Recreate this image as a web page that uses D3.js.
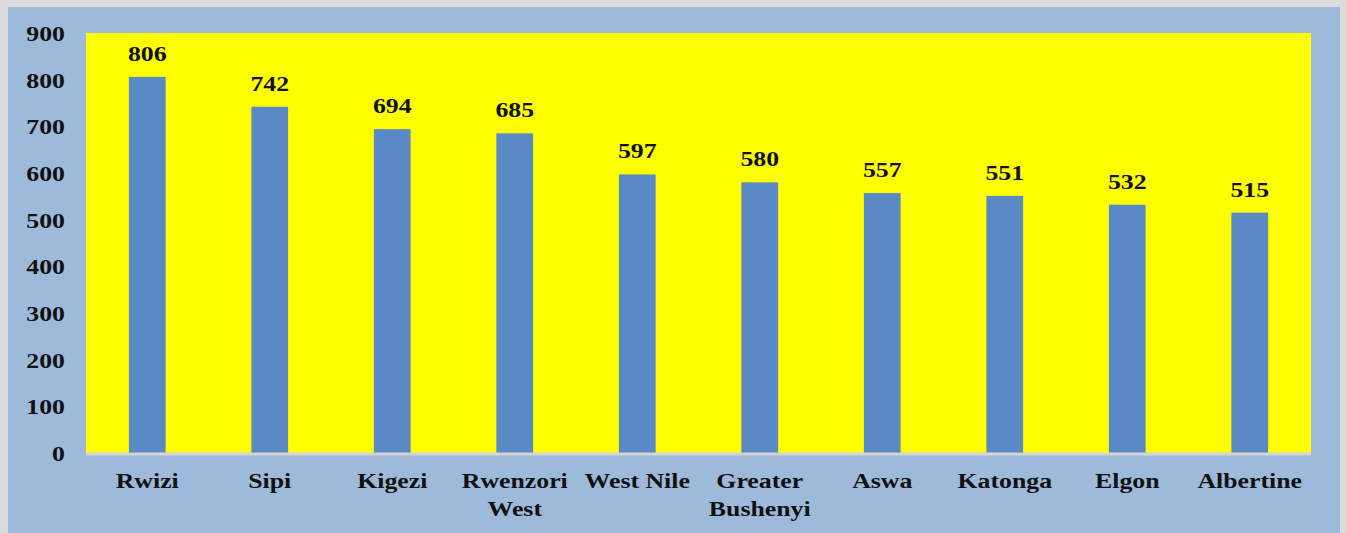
<!DOCTYPE html>
<html>
<head>
<meta charset="utf-8">
<script src="https://cdn.jsdelivr.net/npm/d3@7"></script>
<style>
  html, body { margin: 0; padding: 0; background: #ffffff; }
  svg { display: block; }
  text { font-family: "Liberation Serif", "Times New Roman", serif; font-weight: bold; fill: #111; }
</style>
</head>
<body>
<svg id="chart" width="1346" height="533"></svg>
<script>
// Regions and their values
const categories = ["Rwizi", "Sipi", "Kigezi", "Rwenzori West", "West Nile",
  "Greater Bushenyi", "Aswa", "Katonga", "Elgon", "Albertine"];
const values = [806, 742, 694, 685, 597, 580, 557, 551, 532, 515];
const yTicks = [0, 100, 200, 300, 400, 500, 600, 700, 800, 900];

const W = 1346, H = 533;
const plot = { left: 86, top: 33, right: 1311, bottom: 453 };
const FONT = 21.5;          // label font size
const STRETCH = "scale(1.2,1)"; // wide bold serif lettering

const svg = d3.select("#chart");

// Frame: light grey edge, blue chart area
svg.append("rect").attr("x", 0).attr("y", 0).attr("width", W).attr("height", H).attr("fill", "#dcdcdc");
svg.append("rect").attr("x", 8).attr("y", 7).attr("width", 1332).attr("height", H - 7).attr("fill", "#9dbadb");

// Yellow plot area
svg.append("rect")
  .attr("x", plot.left).attr("y", plot.top)
  .attr("width", plot.right - plot.left).attr("height", plot.bottom - plot.top)
  .attr("fill", "#ffff00");

const x = d3.scaleBand().domain(categories).range([plot.left, plot.right]).paddingInner(0.7).paddingOuter(0.35);
const y = d3.scaleLinear().domain([0, 900]).range([plot.bottom, plot.top]);

// Bars
svg.append("g").selectAll("rect").data(values).join("rect")
  .attr("x", (d, i) => x(categories[i]))
  .attr("y", d => y(d))
  .attr("width", x.bandwidth())
  .attr("height", d => y(0) - y(d))
  .attr("fill", "#5a8ac6");

// Baseline
svg.append("line")
  .attr("x1", plot.left).attr("x2", plot.right)
  .attr("y1", y(0) + 1).attr("y2", y(0) + 1)
  .attr("stroke", "#d4d4d4").attr("stroke-width", 3);

// Value labels
svg.append("g").selectAll("g").data(values).join("g")
  .attr("transform", (d, i) => `translate(${x(categories[i]) + x.bandwidth() / 2},${y(d) - 16})`)
  .append("text")
  .attr("text-anchor", "middle")
  .attr("font-size", FONT)
  .attr("transform", STRETCH)
  .text(d => d);

// Y axis
const yAxis = d3.axisLeft(y).tickValues(yTicks).tickSize(0).tickPadding(0);
const gy = svg.append("g").attr("transform", `translate(${plot.left - 21},0)`).call(yAxis);
gy.select(".domain").remove();
gy.selectAll("text").attr("font-size", FONT).attr("dy", "0.35em").attr("x", 0)
  .attr("transform", STRETCH)
  .style("font-family", "'Liberation Serif', serif").style("font-weight", "bold").attr("fill", "#111");

// X axis with wrapped category labels
const xAxis = d3.axisBottom(x).tickSize(0).tickPadding(0).tickFormat("");
const gx = svg.append("g").attr("transform", `translate(0,${plot.bottom})`).call(xAxis);
gx.select(".domain").remove();
const wrapped = {
  "Rwenzori West": ["Rwenzori", "West"],
  "Greater Bushenyi": ["Greater", "Bushenyi"]
};
gx.selectAll(".tick").each(function(d) {
  const lines = wrapped[d] || [d];
  const t = d3.select(this).append("text")
    .attr("text-anchor", "middle")
    .attr("font-size", FONT)
    .attr("fill", "#111")
    .attr("transform", STRETCH)
    .style("font-family", "'Liberation Serif', serif")
    .style("font-weight", "bold");
  lines.forEach((ln, k) => {
    t.append("tspan").attr("x", 0).attr("y", 35 + k * 28).text(ln);
  });
});
</script>
</body>
</html>
